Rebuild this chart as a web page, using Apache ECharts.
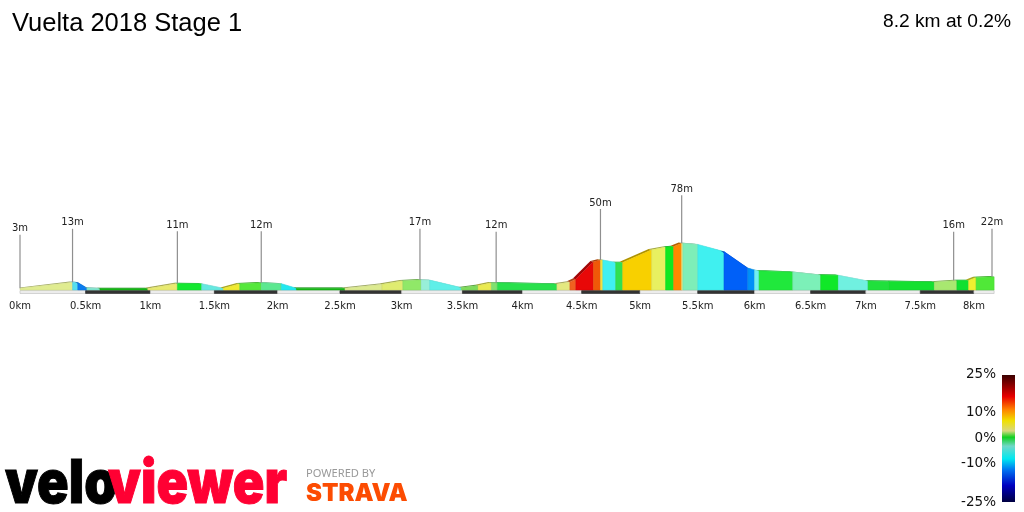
<!DOCTYPE html>
<html>
<head>
<meta charset="utf-8">
<style>html,body{margin:0;background:#fff}#main{width:1024px;height:512px}</style>
<script src="https://cdn.jsdelivr.net/npm/echarts@6/dist/echarts.min.js"></script>
</head>
<body>
<div id="main"></div>
<script>
var profileKm = [0, 0.40, 0.44, 0.51, 0.61, 0.98, 1.21, 1.40, 1.57, 1.70, 1.87, 2.03, 2.15, 2.54, 2.84, 3.01, 3.16, 3.23, 3.49, 3.63, 3.74, 3.79, 4.29, 4.40, 4.45, 4.60, 4.66, 4.68, 4.79, 4.85, 5.10, 5.22, 5.29, 5.36, 5.37, 5.50, 5.73, 5.94, 6.00, 6.04, 6.34, 6.59, 6.75, 7.02, 7.21, 7.63, 7.84, 7.95, 8.02, 8.19];
var profileElev = [3, 13, 12.5, 3.5, 2.5, 2.5, 11, 10.5, 3, 10.5, 12, 10.5, 3, 3, 9.5, 15.5, 17, 16.5, 4, 7.5, 12, 12, 10, 13.5, 18, 47, 50, 50, 46, 46, 67, 71.5, 72.5, 78, 78, 76, 64, 36.5, 33.5, 32, 30, 25, 24.5, 15, 14.5, 13.5, 16, 16, 21, 22];
var segmentColors = ['#e0ec90', '#55dfef', '#0a7cf0', '#7fe8d0', '#14b814', '#e8ea70', '#14e830', '#66e8e0', '#f0ea30', '#55e83c', '#5ce890', '#22e8f0', '#14b814', '#dcea90', '#e0ec70', '#90e868', '#98efd8', '#5fefe8', '#7fdc5c', '#eaea50', '#80e070', '#28e04c', '#e4e880', '#f06020', '#e80808', '#f05808', '#f0e040', '#40f0f0', '#30e050', '#f8d000', '#e8f060', '#10e820', '#ff8800', '#f0f080', '#7eeeb8', '#40f0f0', '#0060f8', '#0090f8', '#70f0f0', '#20e83c', '#7cf0b8', '#10e828', '#70f0e0', '#20e03c', '#14e030', '#a8e870', '#10e030', '#f0f030', '#50e838'];
var markerKm = [0, 0.40, 1.21, 1.87, 3.15, 3.78, 4.66, 5.36, 7.81, 8.17];
var markerElev = [3, 13, 11, 12, 17, 12, 50, 78, 16, 22];
var stemTops = [92, 102, 98, 98, 102, 97, 135, 158, 97, 102];
var kmTicks = [0, 0.5, 1, 1.5, 2, 2.5, 3, 3.5, 4, 4.5, 5, 5.5, 6, 6.5, 7, 7.5, 8];
var stripEnds = [0.5, 1, 1.5, 2, 2.5, 3, 3.5, 4, 4.5, 5, 5.5, 6, 6.5, 7, 7.5, 8, 8.19];
var gradientTicks = ['25%', '10%', '0%', '-10%', '-25%'];

// the profile is drawn in perspective, distances shrink towards the far end
function proj(km) {
    return km - 0.01207 * km * km;
}

function shade(hex, f) {
    var n = parseInt(hex.slice(1), 16);
    return 'rgb(' + [(n >> 16) & 255, (n >> 8) & 255, n & 255].map(function (c) { return Math.round(c * f); }).join(',') + ')';
}

var segments = segmentColors.map(function (c, i) {
    return [proj(profileKm[i]), proj(profileKm[i + 1]), profileElev[i], profileElev[i + 1], i];
});
var strips = stripEnds.map(function (k, i) {
    return [proj(i ? stripEnds[i - 1] : 0), proj(k), i];
});
var markers = markerKm.map(function (k, i) {
    return [proj(k), markerElev[i], stemTops[i]];
});

function renderSegment(params, api) {
    var a = api.coord([api.value(0), api.value(2)]);
    var b = api.coord([api.value(1), api.value(3)]);
    var base0 = api.coord([api.value(0), 0]);
    var base1 = api.coord([api.value(1), 0]);
    var left = base0[0] - (api.value(0) === 0 ? 0 : 3);
    var color = segmentColors[api.value(4)];
    return {
        type: 'group',
        children: [{
            type: 'polygon',
            shape: {points: [a, b, [b[0] - 3, b[1] - 0.7], [left, a[1] - 0.7]]},
            style: {fill: shade(color, 0.7)}
        }, {
            type: 'polygon',
            shape: {points: [a, b, base1, base0]},
            style: {fill: color, stroke: shade(color, 0.92), lineWidth: 0.5}
        }]
    };
}

function renderStrip(params, api) {
    var a = api.coord([api.value(0), 0]);
    var b = api.coord([api.value(1), 0]);
    var dark = api.value(2) % 2 === 1;
    return {
        type: 'rect',
        shape: {x: a[0], y: a[1] + 0.5, width: b[0] - a[0], height: 3},
        style: {fill: dark ? '#333' : '#ececec', stroke: dark ? '#333' : '#c4c4c4', lineWidth: 0.7}
    };
}

function renderMarker(params, api) {
    var foot = api.coord([api.value(0), api.value(1)]);
    var top = api.coord([api.value(0), api.value(2)]);
    return {
        type: 'group',
        children: [{
            type: 'line',
            shape: {x1: foot[0], y1: foot[1], x2: top[0], y2: top[1]},
            style: {stroke: '#8f8f8f', lineWidth: 1.2}
        }, {
            type: 'text',
            x: top[0],
            y: top[1] - 6,
            style: {
                text: api.value(1) + 'm',
                font: '10px "DejaVu Sans"',
                fill: '#222',
                align: 'center',
                verticalAlign: 'middle'
            }
        }]
    };
}

var gradientY = [374, 412, 438, 463, 502];

var myChart = echarts.init(document.getElementById('main'));
var option = {
    backgroundColor: '#fff',
    animation: false,
    grid: {left: 20, width: 972, top: 140, height: 150},
    xAxis: {
        type: 'value',
        min: 0,
        max: proj(8.17),
        splitLine: {show: false},
        axisLine: {show: false},
        axisTick: {show: false},
        axisLabel: {
            customValues: kmTicks.map(proj),
            margin: 11,
            color: '#222',
            fontFamily: 'DejaVu Sans',
            fontSize: 10,
            formatter: function (v) {
                var k = kmTicks.filter(function (t) { return Math.abs(proj(t) - v) < 1e-6; })[0];
                return k + 'km';
            }
        }
    },
    yAxis: {type: 'value', min: 0, max: 250, show: false},
    series: [
        {type: 'custom', renderItem: renderStrip, data: strips, silent: true, clip: false, encode: {x: [0, 1]}},
        {type: 'custom', renderItem: renderSegment, data: segments, silent: true, clip: false, encode: {x: [0, 1], y: [2, 3]}},
        {type: 'custom', renderItem: renderMarker, data: markers, silent: true, clip: false, encode: {x: 0, y: [1, 2]}}
    ],
    graphic: [
        {type: 'text', x: 12, y: 24, style: {text: 'Vuelta 2018 Stage 1', font: '25.5px "Liberation Sans"', fill: '#000', verticalAlign: 'middle'}},
        {type: 'text', x: 1011, y: 22, style: {text: '8.2 km at 0.2%', font: '19.2px "Liberation Sans"', fill: '#000', align: 'right', verticalAlign: 'middle'}},
        {
            type: 'rect',
            shape: {x: 1002, y: 375, width: 13, height: 127},
            style: {
                fill: new echarts.graphic.LinearGradient(0, 0, 0, 1, [
                    {offset: 0, color: '#3a0000'},
                    {offset: 0.08, color: '#8a0000'},
                    {offset: 0.17, color: '#e80000'},
                    {offset: 0.27, color: '#ff8000'},
                    {offset: 0.36, color: '#f0e000'},
                    {offset: 0.44, color: '#d8d880'},
                    {offset: 0.49, color: '#10d020'},
                    {offset: 0.56, color: '#70d8c8'},
                    {offset: 0.66, color: '#00e8f0'},
                    {offset: 0.75, color: '#0070f0'},
                    {offset: 0.87, color: '#0000c0'},
                    {offset: 1, color: '#000040'}
                ])
            }
        }
    ].concat(gradientTicks.map(function (t, i) {
        return {type: 'text', x: 996, y: gradientY[i], style: {text: t, font: '13.5px "DejaVu Sans"', fill: '#111', align: 'right', verticalAlign: 'middle'}};
    })).concat([
        {type: 'text', x: 5, y: 485, scaleX: 0.87, style: {text: 'velo', font: '900 60px Inter', fill: '#000', stroke: '#000', lineWidth: 1, verticalAlign: 'middle'}},
        {type: 'text', x: 108, y: 485, scaleX: 0.87, style: {text: 'viewer', font: '900 60px Inter', fill: '#ff0033', stroke: '#ff0033', lineWidth: 1, verticalAlign: 'middle'}},
        {type: 'text', x: 306, y: 474, scaleX: 1.11, style: {text: 'POWERED BY', font: '10px "Noto Sans"', fill: '#999', verticalAlign: 'middle'}},
        {type: 'text', x: 306, y: 494, style: {text: 'STRAVA', font: '900 24px Inter', fill: '#fc4c02', verticalAlign: 'middle'}}
    ])
};
myChart.setOption(option);
</script>
</body>
</html>
